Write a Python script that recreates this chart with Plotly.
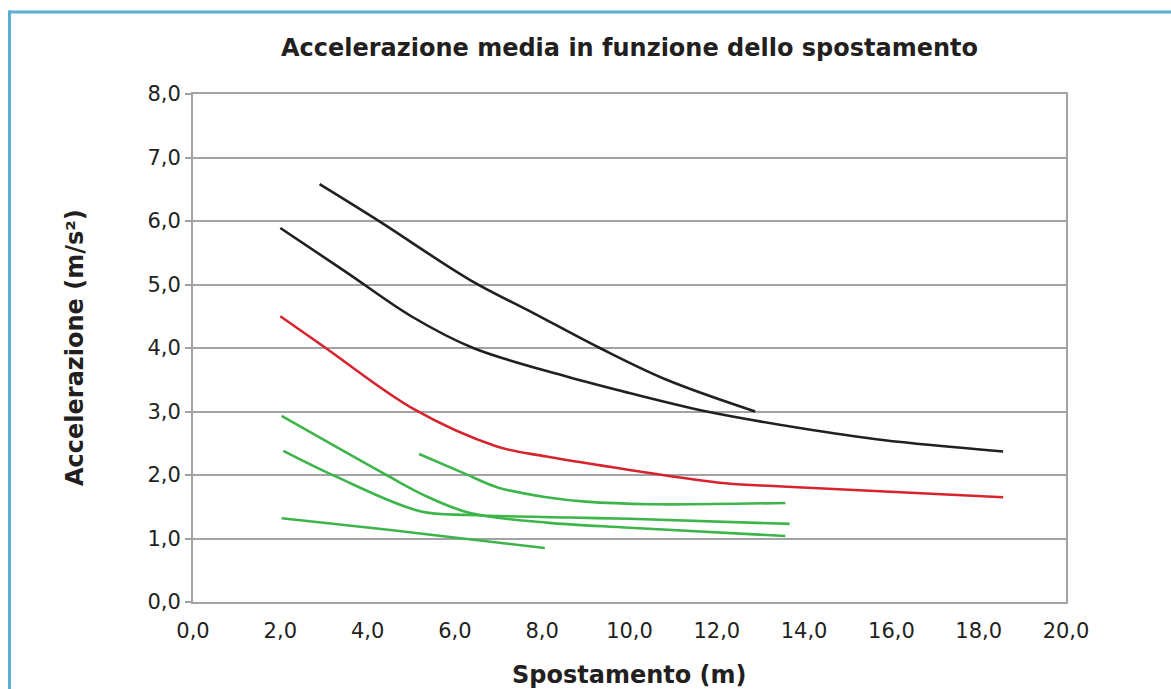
import plotly.graph_objects as go

# Black curves
black1_x = [2.9, 4.28, 6.35, 7.8, 9.32, 10.85, 12.88]
black1_y = [6.58, 5.99, 5.07, 4.55, 4.00, 3.50, 3.00]

black2_x = [2.0, 3.5, 5.0, 6.42, 8.56, 10.0, 11.77, 13.9, 15.8, 18.56]
black2_y = [5.89, 5.20, 4.50, 4.00, 3.55, 3.29, 3.00, 2.74, 2.55, 2.37]

# Red curve
red_x = [2.0, 3.0, 5.05, 6.96, 8.1, 10.0, 12.2, 13.5, 18.56]
red_y = [4.50, 4.02, 3.04, 2.45, 2.29, 2.08, 1.87, 1.82, 1.65]

# Green curves
green1_x = [2.03, 4.43, 5.3, 6.35, 8.1, 10.0, 13.57]
green1_y = [2.93, 2.00, 1.68, 1.40, 1.25, 1.17, 1.04]

green2_x = [2.07, 3.29, 5.2, 6.35, 8.64, 10.0, 13.67]
green2_y = [2.38, 1.97, 1.43, 1.37, 1.33, 1.31, 1.23]

green3_x = [5.18, 6.2, 7.0, 8.1, 9.0, 10.5, 13.57]
green3_y = [2.33, 2.03, 1.80, 1.65, 1.58, 1.54, 1.56]

green4_x = [2.03, 4.05, 5.2, 8.06]
green4_y = [1.32, 1.17, 1.08, 0.85]

x_ticks = [0, 2, 4, 6, 8, 10, 12, 14, 16, 18, 20]
y_ticks = [0, 1, 2, 3, 4, 5, 6, 7, 8]

BLACK = "#231F20"
RED = "#D7232E"
GREEN = "#3DB54A"

series = [
    (black1_x, black1_y, BLACK),
    (black2_x, black2_y, BLACK),
    (red_x, red_y, RED),
    (green1_x, green1_y, GREEN),
    (green2_x, green2_y, GREEN),
    (green3_x, green3_y, GREEN),
    (green4_x, green4_y, GREEN),
]

fig = go.Figure()
for xs, ys, c in series:
    fig.add_trace(go.Scatter(x=xs, y=ys, mode="lines",
                             line=dict(color=c, width=2.6, shape="spline", smoothing=1.0),
                             showlegend=False, hoverinfo="skip"))

FONT = "DejaVu Sans, Verdana, sans-serif"
GRID = "#A3A3A6"
TXT = "#231F20"
W, H = 1171, 689
ML, MR, MT, MB = 193, 105, 94, 87
PW, PH = W - ML - MR, H - MT - MB


def px_x(p):
    return (p - ML) / PW


def px_y(p):
    return (H - MB - p) / PH


fig.update_layout(
    width=W, height=H,
    margin=dict(l=ML, r=MR, t=MT, b=MB, autoexpand=False),
    paper_bgcolor="white", plot_bgcolor="white",
    separators=",.",
    font=dict(family=FONT, color=TXT),
    title=dict(text="<b>Accelerazione media in funzione dello spostamento</b>",
               x=0.5, xref="paper", xanchor="center",
               y=1 - 48 / H, yref="container", yanchor="middle",
               font=dict(size=24, family=FONT, color=TXT)),
    xaxis=dict(range=[0, 20], tickvals=x_ticks, tickformat=".1f",
               showgrid=False, zeroline=False, automargin=False,
               showline=True, linecolor=GRID, linewidth=2, mirror=True,
               ticks="outside", ticklen=9, tickcolor="rgba(0,0,0,0)",
               tickfont=dict(size=21, family=FONT, color=TXT)),
    yaxis=dict(range=[0, 8], tickvals=y_ticks, tickformat=".1f",
               showgrid=True, gridcolor=GRID, gridwidth=2, zeroline=False,
               automargin=False,
               showline=True, linecolor=GRID, linewidth=2, mirror=True,
               ticks="outside", ticklen=6, tickcolor=GRID, tickwidth=2,
               tickfont=dict(size=21, family=FONT, color=TXT)),
)

# Axis titles as annotations
fig.add_annotation(text="<b>Spostamento (m)</b>", xref="paper", yref="paper",
                   x=0.5, y=px_y(675), xanchor="center", yanchor="middle",
                   showarrow=False, font=dict(size=24, family=FONT, color=TXT))
fig.add_annotation(text="<b>Accelerazione (m/s²)</b>", xref="paper", yref="paper",
                   x=px_x(75), y=0.5, xanchor="center", yanchor="middle", textangle=-90,
                   showarrow=False, font=dict(size=24, family=FONT, color=TXT))

# Light-blue frame (top and left edges)
fig.add_shape(type="line", xref="paper", yref="paper",
              x0=px_x(8), x1=px_x(W + 5), y0=px_y(12), y1=px_y(12),
              line=dict(color="#5BAFD1", width=3))
fig.add_shape(type="line", xref="paper", yref="paper",
              x0=px_x(9.5), x1=px_x(9.5), y0=px_y(10.5), y1=px_y(H + 5),
              line=dict(color="#5BAFD1", width=3))

fig.write_html("out.html", config={"displayModeBar": False},
               post_script="document.body.style.margin='0';")
